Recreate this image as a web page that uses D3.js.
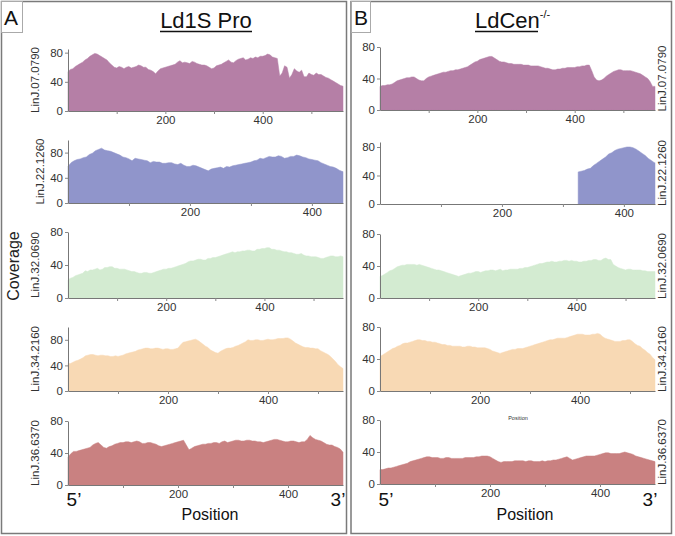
<!DOCTYPE html>
<html>
<head>
<meta charset="utf-8">
<script src="https://cdn.jsdelivr.net/npm/d3@7"></script>
<style>
  html, body { margin: 0; padding: 0; background: #fff; }
  svg { display: block; font-family: "Liberation Sans", Arial, sans-serif; }
</style>
</head>
<body>
<svg id="chart" width="675" height="536"></svg>
<script>
// ---------------- DATA ----------------
const panelTitles = ["Ld1S Pro", "LdCen"];
const panelLetters = ["A", "B"];
const genes = ["LinJ.07.0790", "LinJ.22.1260", "LinJ.32.0690", "LinJ.34.2160", "LinJ.36.6370"];
const geneLengths = [565, 451, 560, 550, 500];
const yTickValues = [0, 40, 80];
const xTickLabelValues = [200, 400];
const binStep = 5;

// Ld1S Pro coverage (one value per 5 nt, from position 0)
const ld1s_07_0790 = [54,57,58,61,63,65,67,70,72,75,77,79,78,76,74,72,70,66,63,60,59,61,60,58,60,61,59,60,61,63,62,60,60,57,56,54,51,55,58,59,60,61,62,63,64,67,69,66,67,66,65,68,67,65,64,63,63,62,60,58,59,62,63,64,66,68,70,67,66,69,71,72,73,70,71,73,72,74,73,75,75,76,78,77,74,73,72,48,52,62,60,45,50,58,55,53,56,47,47,52,50,49,52,50,50,48,46,45,43,41,39,37,35,34];
const ld1s_22_1260 = [58,64,67,69,70,72,73,77,79,83,85,87,84,83,82,80,78,76,73,72,70,67,71,70,69,68,67,64,66,65,65,63,63,64,64,62,61,63,60,58,58,60,59,57,55,53,51,54,55,56,57,55,58,57,59,60,61,62,63,64,65,67,68,71,70,72,74,73,73,75,74,71,72,74,74,76,75,73,72,70,69,68,67,64,62,60,58,57,55,52,50];
const ld1s_32_0690 = [22,24,25,27,28,29,30,33,32,34,34,35,36,34,35,37,37,38,38,36,36,35,35,35,34,33,32,32,31,30,30,31,31,30,30,31,32,33,34,35,35,36,36,37,38,39,40,41,42,44,45,45,46,47,47,46,46,48,48,49,49,50,51,52,53,54,55,56,55,56,56,57,57,58,58,57,57,59,59,60,60,61,61,59,59,58,58,57,56,56,55,55,54,53,53,54,52,51,51,50,50,50,49,48,48,49,50,51,51,50,50,51,50];
const ld1s_34_2160 = [43,43,45,47,48,50,52,55,56,57,57,56,55,56,56,55,55,54,54,55,54,55,56,58,59,60,61,62,64,65,66,67,67,66,66,67,67,66,65,66,66,65,65,66,67,72,76,77,78,79,80,81,79,76,73,70,68,64,62,60,59,62,64,66,67,67,68,70,71,73,75,77,80,79,79,80,80,79,79,80,81,80,80,81,82,82,82,83,83,81,78,75,73,71,69,68,68,67,67,66,66,63,61,59,57,54,50,46,41,38,35];
const ld1s_36_6370 = [35,39,42,42,43,44,45,46,47,50,52,53,50,47,46,48,49,51,52,53,53,54,54,53,54,55,54,52,52,53,53,52,51,49,48,49,50,51,52,53,54,55,56,50,44,46,48,49,50,51,51,52,52,53,53,52,54,55,53,54,55,56,56,55,55,56,56,55,55,54,54,53,54,55,56,57,57,56,55,54,54,55,55,54,53,54,54,57,62,59,57,56,55,53,51,50,50,48,47,45,41];

// LdCen-/- coverage (one value per 5 nt)
const ldcen_07_0790 = [30,31,31,32,32,33,35,37,38,39,40,41,41,42,42,40,38,37,37,40,42,43,44,45,46,47,48,48,49,50,50,51,51,52,53,54,55,57,59,61,62,64,65,66,67,68,68,66,64,62,61,61,60,59,59,58,58,58,58,57,57,57,56,56,56,56,55,54,53,53,52,51,51,52,52,53,53,54,54,54,54,55,55,56,56,57,57,50,42,38,37,38,40,43,45,47,49,50,51,51,50,50,50,50,49,48,47,46,44,42,40,36,30];
const ldcen_22_1260_start = 325; // no coverage before this position (deletion)
const ldcen_22_1260 = [45,46,47,49,50,54,57,60,63,66,70,72,75,77,78,79,80,80,79,77,74,71,68,64,61,58];
const ldcen_32_0690 = [27,28,30,32,34,35,37,39,40,41,41,42,42,42,42,41,42,41,40,39,38,37,36,35,35,34,33,32,31,30,29,28,27,28,29,30,31,31,32,33,33,32,33,34,34,35,35,34,35,36,34,35,35,36,36,36,36,37,37,38,38,39,40,41,42,43,43,44,45,45,46,45,45,46,46,47,47,46,47,46,46,45,45,46,46,47,47,48,48,47,47,49,50,48,48,42,40,38,37,36,35,36,36,35,35,35,35,34,34,33,33,33,33];
const ldcen_34_2160 = [43,45,47,49,51,53,54,56,57,59,60,60,61,62,63,64,64,63,63,62,62,61,61,60,59,58,58,57,57,56,56,56,56,55,55,56,56,55,55,54,54,54,54,53,52,50,49,48,47,48,49,50,51,52,52,53,53,53,54,55,56,57,58,59,60,61,62,63,64,64,65,66,66,66,66,67,68,69,70,71,71,71,70,70,70,71,71,72,71,68,66,65,64,63,62,62,62,63,63,64,64,62,59,57,56,53,51,48,46,42,39];
const ldcen_36_6370 = [18,18,19,20,20,21,22,23,24,25,26,28,29,30,31,32,33,34,34,33,33,33,32,32,33,33,32,32,32,32,32,33,33,33,33,34,34,35,35,35,34,32,30,28,27,28,28,28,28,29,29,29,29,28,29,29,28,28,28,29,28,29,29,30,30,31,32,33,34,32,30,31,32,33,34,35,35,35,35,36,37,38,39,39,38,38,38,38,39,40,39,38,37,35,34,33,32,31,30,29,28];

const series = [
  [ld1s_07_0790, ld1s_22_1260, ld1s_32_0690, ld1s_34_2160, ld1s_36_6370],
  [ldcen_07_0790, ldcen_22_1260, ldcen_32_0690, ldcen_34_2160, ldcen_36_6370]
];
const seriesStart = [
  [0, 0, 0, 0, 0],
  [0, ldcen_22_1260_start, 0, 0, 0]
];

// ---------------- STYLE / LAYOUT ----------------
const geneColors = ["#b57fa6", "#9095cb", "#d3ebd1", "#f8d9b4", "#c98181"];
const panelX = [[68, 343], [380, 655]];
const rows = [
  [{b:111,t:49,m:85},{b:203,t:140,m:100},{b:298,t:232,m:80},{b:391,t:327,m:100},{b:485,t:421,m:80}],
  [{b:110,t:47,m:80},{b:204,t:142,m:87},{b:298,t:234,m:80},{b:391,t:327,m:80},{b:484,t:420,m:80}]
];

const svg = d3.select("#chart");

// panel frames
svg.append("rect").attr("x",1.5).attr("y",1.5).attr("width",345).attr("height",532)
  .attr("fill","none").attr("stroke","#7a7a7a").attr("stroke-width",1.5);
svg.append("rect").attr("x",351).attr("y",1.5).attr("width",320.5).attr("height",532)
  .attr("fill","none").attr("stroke","#7a7a7a").attr("stroke-width",1.5);
// letter boxes
svg.append("rect").attr("x",1.5).attr("y",1.5).attr("width",21).attr("height",31)
  .attr("fill","#fff").attr("stroke","#aaa").attr("stroke-width",1);
svg.append("rect").attr("x",351.5).attr("y",1.5).attr("width",19).attr("height",31)
  .attr("fill","#fff").attr("stroke","#aaa").attr("stroke-width",1);
svg.append("text").attr("x",11).attr("y",25).attr("text-anchor","middle")
  .attr("font-size",21).attr("fill","#111").text(panelLetters[0]);
svg.append("text").attr("x",361).attr("y",25).attr("text-anchor","middle")
  .attr("font-size",21).attr("fill","#111").text(panelLetters[1]);

// titles
svg.append("text").attr("x",206).attr("y",28).attr("text-anchor","middle")
  .attr("font-size",22).attr("fill","#111").text(panelTitles[0]);
svg.append("line").attr("x1",160).attr("x2",252).attr("y1",31.5).attr("y2",31.5)
  .attr("stroke","#111").attr("stroke-width",1.6);
const tB = svg.append("text").attr("x",475).attr("y",28).attr("font-size",22).attr("fill","#111");
tB.append("tspan").text(panelTitles[1]);
tB.append("tspan").attr("font-size",11).attr("dy",-10).text("-/-");
svg.append("line").attr("x1",475).attr("x2",538).attr("y1",31.5).attr("y2",31.5)
  .attr("stroke","#111").attr("stroke-width",1.6);

// coverage label
svg.append("text").attr("transform","translate(19,266) rotate(-90)").attr("text-anchor","middle")
  .attr("font-size",16).attr("fill","#222").text("Coverage");

series.forEach((panelSeries, p) => {
  const [x0, x1] = panelX[p];
  panelSeries.forEach((vals, g) => {
    const r = rows[p][g];
    const len = geneLengths[g];
    const start = seriesStart[p][g];
    const x = d3.scaleLinear().domain([0, len]).range([x0, x1]);
    const y = d3.scaleLinear().domain([0, r.m]).range([r.b, r.t]);
    const pts = vals.map((v, i) => ({pos: Math.min(start + i * binStep, len), v}));
    if (pts[pts.length-1].pos < len) pts.push({pos: len, v: vals[vals.length-1]});
    const area = d3.area().x(d => x(d.pos)).y0(y(0)).y1(d => y(d.v));
    svg.append("path").datum(pts).attr("d", area).attr("fill", geneColors[g])
      .attr("stroke", geneColors[g]).attr("stroke-width", 0.5);

    // axes
    const xAxis = d3.axisBottom(x).tickValues(d3.range(100, len, 100))
      .tickFormat(d => xTickLabelValues.includes(d) ? d : "")
      .tickSize(3).tickSizeOuter(0).tickPadding(2);
    const gx = svg.append("g").attr("transform", `translate(0,${r.b})`).call(xAxis);
    gx.select(".domain").attr("stroke","#777");
    gx.selectAll(".tick line").attr("stroke","#888");
    gx.selectAll("text").attr("font-size",11.5).attr("fill","#333")
      .attr("font-family","Liberation Sans, Arial, sans-serif");

    const yAxis = d3.axisLeft(y).tickValues(yTickValues).tickSize(3).tickSizeOuter(0).tickPadding(2);
    const gy = svg.append("g").attr("transform", `translate(${x0},0)`).call(yAxis);
    gy.select(".domain").attr("stroke","#777");
    gy.selectAll(".tick line").attr("stroke","#888");
    gy.selectAll("text").attr("font-size",11.5).attr("fill","#333")
      .attr("font-family","Liberation Sans, Arial, sans-serif");

    // gene label
    const lx = p === 0 ? (g === 1 ? 44 : 39) : 666;
    svg.append("text").attr("transform", `translate(${lx},${(r.b + r.t)/2}) rotate(-90)`)
      .attr("text-anchor","middle").attr("font-size",11.5).attr("fill","#333").text(genes[g]);
  });

  // 5' / 3' / Position
  svg.append("text").attr("x", x0 + 6).attr("y", 506).attr("text-anchor","middle")
    .attr("font-size",19).attr("fill","#111").text("5’");
  svg.append("text").attr("x", x1 - 5).attr("y", 506).attr("text-anchor","middle")
    .attr("font-size",19).attr("fill","#111").text("3’");
  svg.append("text").attr("x", p === 0 ? 210 : 525).attr("y", 520).attr("text-anchor","middle")
    .attr("font-size",16).attr("fill","#111").text("Position");
});
// stray small label in panel B
svg.append("text").attr("x",518).attr("y",420).attr("text-anchor","middle")
  .attr("font-size",5.5).attr("fill","#333").text("Position");
</script>
</body>
</html>
